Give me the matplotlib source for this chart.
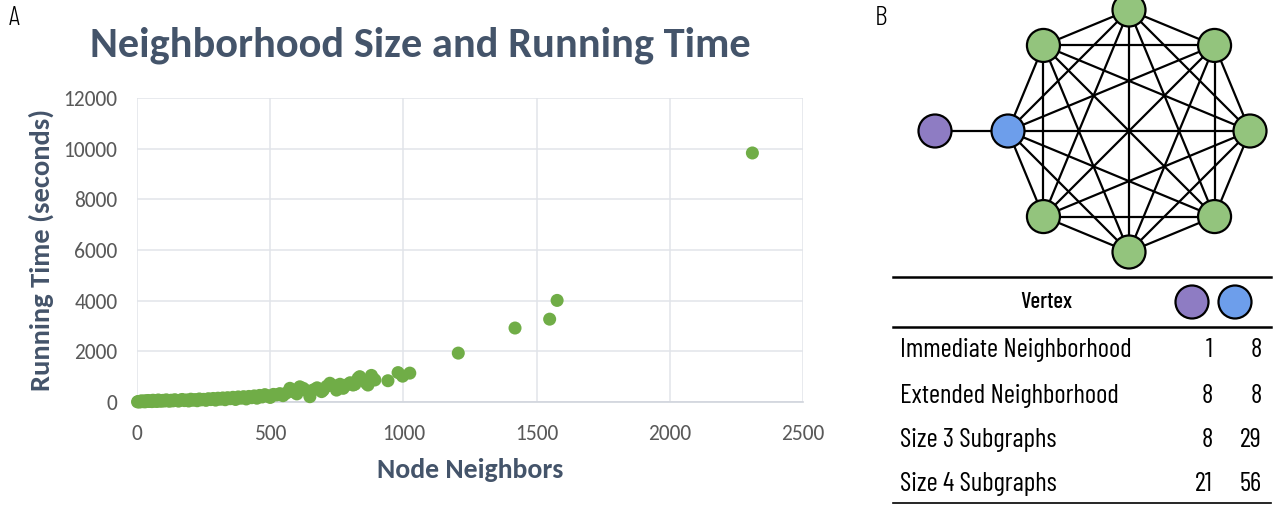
import matplotlib
matplotlib.use("Agg")
import matplotlib.pyplot as plt
from matplotlib.patches import Circle
import numpy as np

# ---------------- data ----------------
node_neighbors = [2, 5, 8, 12, 15, 18, 22, 26, 30, 34, 38, 42, 47, 52, 56, 60, 65, 70, 75, 80,
                  86, 92, 98, 104, 110, 116, 122, 128, 135, 142, 149, 156, 163, 170, 178, 186,
                  194, 202, 210, 218, 226, 234, 242, 250, 259, 268, 277, 286, 295, 304, 313,
                  322, 331, 340, 350, 360, 370, 380, 390, 400, 410, 420, 430, 440, 450, 460,
                  470, 480, 490, 500, 512, 524, 536, 548, 560, 574, 588, 600, 611, 624, 636,
                  649, 662, 676, 693, 699, 712, 724, 737, 749, 762, 774, 786, 800, 811, 818,
                  830, 836, 861, 867, 880, 886, 893, 942, 980, 997, 1024, 1206, 1419, 1549,
                  1577, 2310]
running_time = [5, 20, 0, 30, 10, 45, 15, 35, 5, 50, 25, 60, 20, 40, 15, 70, 35, 55, 20, 80,
                45, 30, 65, 40, 85, 50, 30, 70, 45, 90, 60, 35, 75, 100, 55, 80,
                40, 110, 70, 95, 50, 120, 85, 105, 65, 130, 95, 140, 75, 150, 110,
                160, 90, 170, 130, 185, 100, 200, 150, 210, 120, 220, 170, 240, 150, 260,
                200, 290, 240, 180, 300, 280, 330, 250, 350, 540, 400, 320, 600, 540, 450,
                210, 480, 560, 410, 470, 620, 740, 650, 470, 700, 540, 670, 760, 670, 700,
                940, 1000, 740, 670, 1050, 930, 870, 840, 1160, 1020, 1140, 1930, 2920, 3270,
                4010, 9830]

x_ticks = [0, 500, 1000, 1500, 2000, 2500]
y_ticks = [0, 2000, 4000, 6000, 8000, 10000, 12000]

chart_title = "Neighborhood Size and Running Time"
x_label = "Node Neighbors"
y_label = "Running Time (seconds)"

# graph (panel B): K8 on an octagon, plus one pendant vertex attached to the blue vertex
octagon_colors = ["#93C47D", "#93C47D", "#93C47D", "#93C47D", "#93C47D", "#93C47D",
                  "#6D9EEB", "#93C47D"]   # angles 90, 45, 0, -45, -90, -135, 180, 135
pendant_color = "#8E7CC3"

table_header = "Vertex"
row_labels = ["Immediate Neighborhood", "Extended Neighborhood", "Size 3 Subgraphs", "Size 4 Subgraphs"]
purple_vals = [1, 8, 8, 21]
blue_vals = [8, 8, 29, 56]

# ---------------- figure ----------------
W, H = 1273, 505
fig = plt.figure(figsize=(W / 100, H / 100), dpi=100)

calibri = ["Carlito", "Open Sans", "DejaVu Sans"]
narrow = ["Barlow Condensed", "DejaVu Sans"]
title_col = "#44546A"
tick_col = "#595959"
grid_col = "#E1E4EA"
green = "#70AD47"

# panel A axes (pixel box: x 137..803, y 98..402)
ax = fig.add_axes([137 / W, 1 - 402 / H, 666 / W, 304 / H])
ax.scatter(node_neighbors, running_time, s=88, color=green, edgecolors="none",
           zorder=3, clip_on=False)
ax.set_xlim(0, 2500)
ax.set_ylim(0, 12000)
ax.set_xticks(x_ticks)
ax.set_yticks(y_ticks)
ax.grid(True, color=grid_col, lw=1.1, zorder=0)
ax.set_axisbelow(True)
for s in ["top", "right", "left"]:
    ax.spines[s].set_visible(False)
ax.spines["bottom"].set_color("#D0D4DC")
ax.spines["bottom"].set_linewidth(1.2)
ax.tick_params(length=0, labelsize=15.5, labelcolor=tick_col)
ax.tick_params(axis="x", pad=16)
ax.tick_params(axis="y", pad=14)
for lab in ax.get_xticklabels() + ax.get_yticklabels():
    lab.set_family(calibri)
ax.set_xlabel(x_label, fontsize=20, fontweight="bold", color=title_col, family=calibri, labelpad=10)
ax.set_ylabel(y_label, fontsize=20.5, fontweight="bold", color=title_col, family=calibri, labelpad=7)

fig.text(420 / W, 1 - 45 / H, chart_title, ha="center", va="center", fontsize=30.5,
         fontweight="bold", color=title_col, family=calibri)

# overlay axes in pixel coordinates
ov = fig.add_axes([0, 0, 1, 1])
ov.set_xlim(0, W)
ov.set_ylim(H, 0)
ov.axis("off")

ov.text(9, 18, "A", fontsize=20, family=narrow, fontweight=300, ha="left", va="center")
ov.text(875, 18, "B", fontsize=20, family=narrow, fontweight=300, ha="left", va="center")

# graph
cx, cy, R = 1129, 131, 121
angles = np.deg2rad([90, 45, 0, -45, -90, -135, 180, 135])
px = cx + R * np.cos(angles)
py = cy - R * np.sin(angles)
n = len(px)
for i in range(n):
    for j in range(i + 1, n):
        ov.plot([px[i], px[j]], [py[i], py[j]], color="black", lw=1.6, zorder=2,
                solid_capstyle="round")
blue_idx = 6
pend_x, pend_y = 935, 131
ov.plot([pend_x, px[blue_idx]], [pend_y, py[blue_idx]], color="black", lw=1.6, zorder=2)
r_node = 16.5
for i in range(n):
    ov.add_patch(Circle((px[i], py[i]), r_node, facecolor=octagon_colors[i],
                        edgecolor="black", lw=1.6, zorder=3))
ov.add_patch(Circle((pend_x, pend_y), r_node, facecolor=pendant_color,
                    edgecolor="black", lw=1.6, zorder=3))

# table
ov.plot([893, 1271], [277, 277], color="black", lw=1.8)
ov.plot([893, 1271], [327, 327], color="black", lw=1.8)
ov.plot([893, 1271], [503, 503], color="black", lw=1.2)
ov.text(1046, 302, table_header, fontsize=16.5, fontweight=500, family=narrow,
        ha="center", va="center")
ov.add_patch(Circle((1192, 302), 16.5, facecolor=pendant_color, edgecolor="black", lw=1.6))
ov.add_patch(Circle((1235, 302), 16.5, facecolor="#6D9EEB", edgecolor="black", lw=1.6))
row_y = [350, 396, 440, 484]
for yy, lab, pv, bv in zip(row_y, row_labels, purple_vals, blue_vals):
    ov.text(900, yy, lab, fontsize=19.4, family=narrow, ha="left", va="center")
    ov.text(1213, yy, str(pv), fontsize=19.4, family=narrow, ha="right", va="center")
    ov.text(1262, yy, str(bv), fontsize=19.4, family=narrow, ha="right", va="center")

fig.savefig("out.png", dpi=100)
